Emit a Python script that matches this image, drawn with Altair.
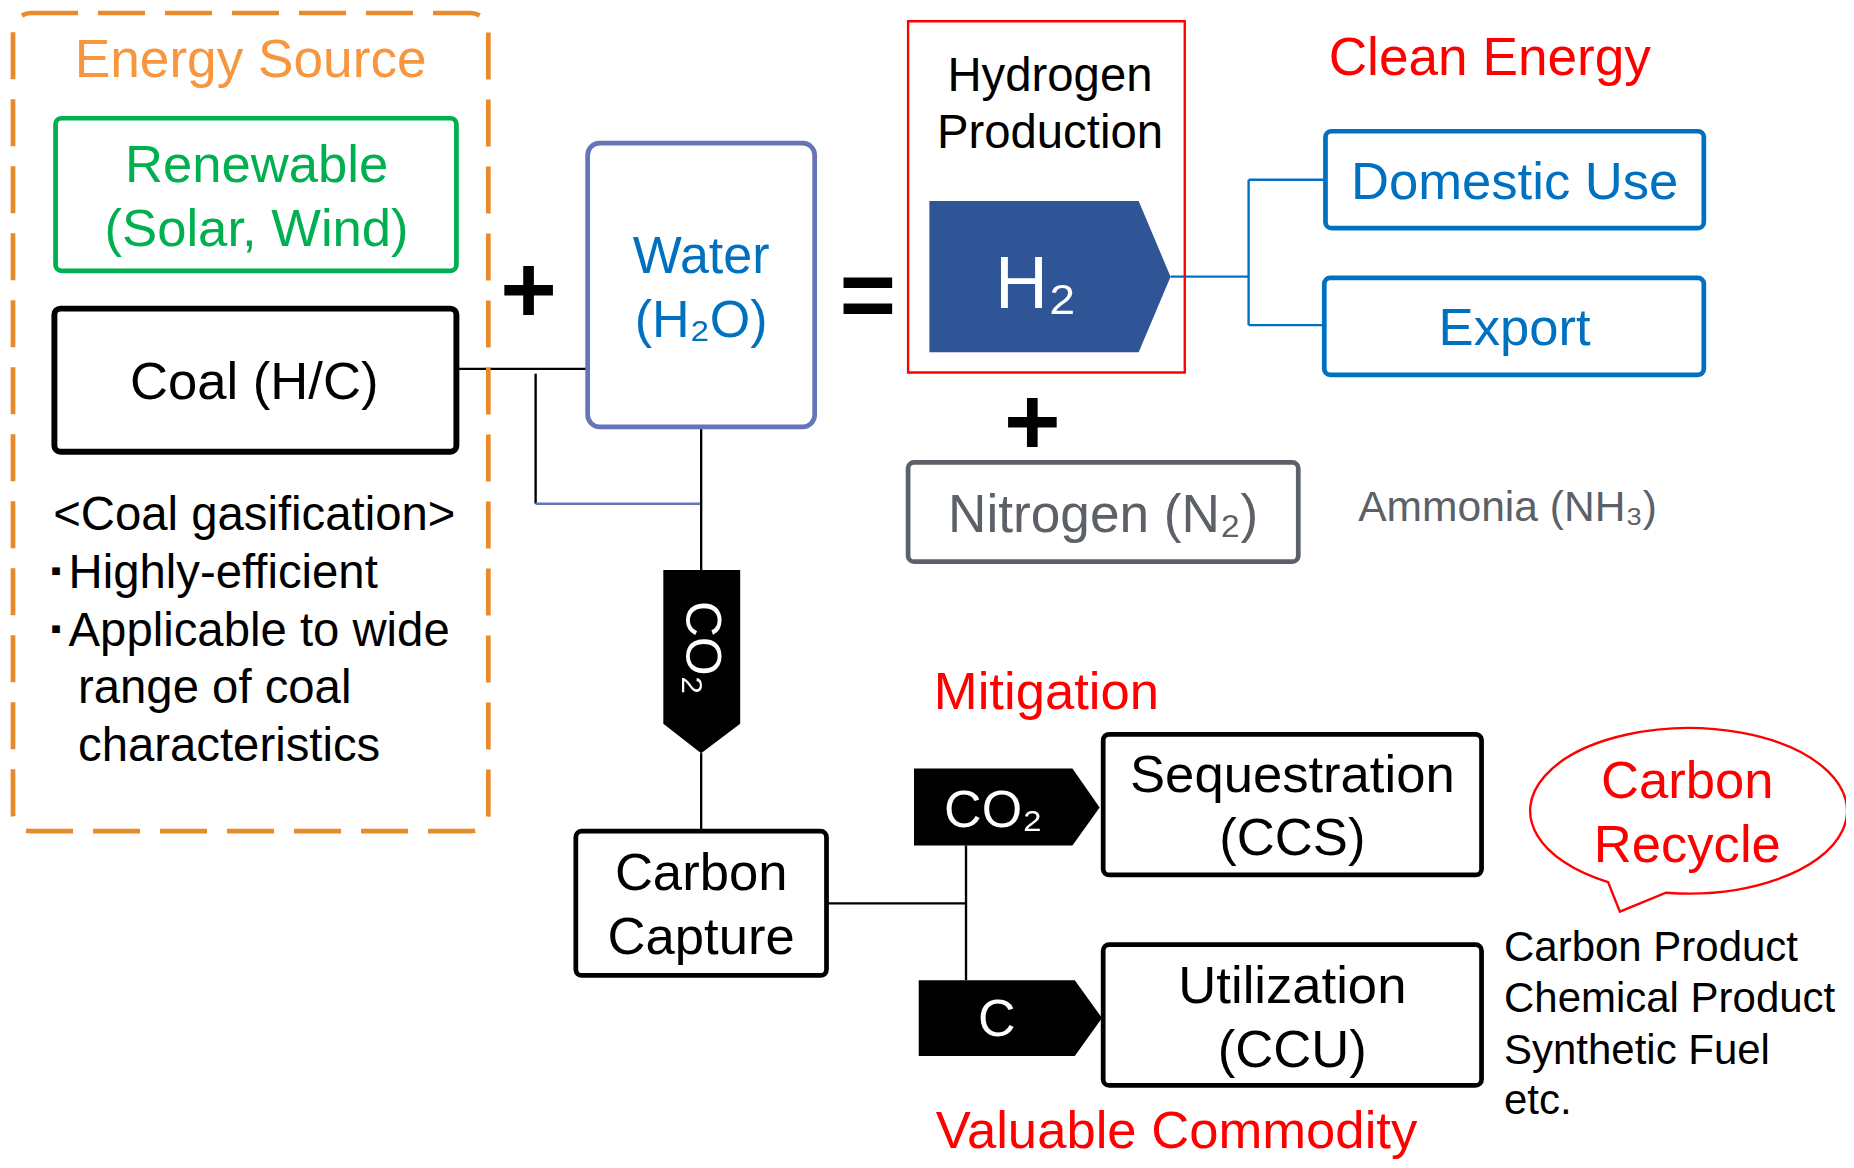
import altair as alt
import pandas as pd

# reference units (1568-wide picture) -> screen pixels
K = 1854 / 1568
PX_W, PX_H = 1838, 1152
X_DOMAIN = [8 / K, (8 + PX_W) / K]
Y_DOMAIN = [8 / K, (8 + PX_H) / K]
FONT = "Liberation Sans"

# ---------------- boxes ----------------
BOX_GROUP = ["dash", "plain", "plain", "water", "hydro", "plain", "plain", "plain", "plain", "plain", "plain"]
BOX_X1 = [11, 47, 46, 497, 768, 1121, 1120, 768, 487, 933, 933]
BOX_Y1 = [11, 100, 261, 121, 18, 111, 235, 391, 703, 621, 799]
BOX_X2 = [413, 386, 386, 689, 1002, 1441, 1441, 1098, 699, 1253, 1253]
BOX_Y2 = [703, 229, 382, 361, 315, 193, 317, 475, 825, 740, 918]
BOX_COL = ["#E98A2C", "#00B050", "#000000", "#6675B7", "#FF0000", "#0070C0", "#0070C0",
           "#5B6167", "#000000", "#000000", "#000000"]
BOX_SW = [4, 4, 5, 4, 2, 4, 4, 4, 4, 4, 4]

# ---------------- connector lines ----------------
LN_X1 = [386, 453, 453, 593, 593, 699, 817, 990, 1056, 1056, 1056]
LN_Y1 = [312, 316, 426, 361, 637, 764, 715, 234, 152, 152, 275]
LN_X2 = [497, 453, 593, 593, 593, 817, 817, 1056, 1056, 1121, 1120]
LN_Y2 = [312, 426, 426, 482, 703, 764, 829, 234, 275, 152, 275]
LN_COL = ["#000000", "#000000", "#6675B7", "#000000", "#000000", "#000000", "#000000",
          "#0070C0", "#0070C0", "#0070C0", "#0070C0"]

# ---------------- arrow-shaped tags (pentagons) ----------------
TAG_NAME = ["H2", "CO2 down", "CO2 right", "C right"]
TAG_X = [[786, 963, 990, 963, 786], [561, 626, 626, 593, 561],
         [773, 907, 930, 907, 773], [777, 909, 932, 909, 777]]
TAG_Y = [[170, 170, 234, 298, 298], [482, 482, 612, 637, 612],
         [650, 650, 683, 715, 715], [829, 829, 861, 893, 893]]
TAG_COL = ["#2F5597", "#000000", "#000000", "#000000"]

# ---------------- speech bubble ----------------
BUB_CX, BUB_CY, BUB_RX, BUB_RY = 1425, 686, 134, 70
BUB_TAIL_X = [1409, 1360, 1370]   # right attach, left attach, tip
BUB_TAIL_Y = [755, 746, 771]

# ---------------- texts ----------------
TXT = ["Energy Source", "Renewable", "(Solar, Wind)", "Coal (H/C)",
       "Water", "(H₂O)", "Hydrogen", "Production", "H₂", "Clean Energy",
       "Domestic Use", "Export", "Nitrogen (N₂)", "Ammonia (NH₃)", "Mitigation",
       "CO₂", "C", "Sequestration", "(CCS)", "Utilization", "(CCU)",
       "Carbon", "Capture", "Carbon", "Recycle", "Valuable Commodity"]
TXT_X = [212, 217, 217, 215, 593, 593, 888, 888, 876, 1260,
         1281, 1281, 933, 1275, 885, 840, 843, 1093, 1093, 1093, 1093,
         593, 593, 1427, 1427, 995]
TXT_Y = [51.5, 140.5, 194.5, 323.5, 217.5, 271.5, 65.5, 113.5, 241.5, 49.5,
         154.5, 278.5, 436.5, 429.5, 586.5, 685.5, 862.5, 656.5, 709.5, 834.5, 888.5,
         739.5, 793.5, 661.5, 715.5, 957]
TXT_COL = ["#F7963F", "#00B050", "#00B050", "#000000", "#0070C0", "#0070C0", "#000000", "#000000",
           "#FFFFFF", "#FF0000", "#0070C0", "#0070C0", "#5B6167", "#5B6167", "#FF0000",
           "#FFFFFF", "#FFFFFF", "#000000", "#000000", "#000000", "#000000",
           "#000000", "#000000", "#FF0000", "#FF0000", "#FF0000"]
TXT_FS = [45, 44.5, 44.5, 44.5, 44, 44, 40, 40, 62, 45,
          44.5, 44.5, 45, 36, 44.5, 44, 44, 44.5, 44.5, 44.5, 44.5,
          44.5, 44.5, 44.5, 44.5, 44.5]

LEFT_TXT = ["<Coal gasification>", "Highly-efficient", "Applicable to wide", "range of coal",
            "characteristics", "Carbon Product", "Chemical Product", "Synthetic Fuel", "etc."]
LEFT_X = [45, 58, 58, 66, 66, 1272, 1272, 1272, 1272]
LEFT_Y = [436.5, 485.5, 534.5, 582.5, 631.5, 801.5, 844.5, 888.5, 931.5]
LEFT_FS = [40, 40, 40, 40, 40, 35.5, 35.5, 35.5, 35.5]

BULLET_TXT = ["▪", "▪"]
BULLET_X = [47.5, 47.5]
BULLET_Y = [484, 533]
BULLET_FS = [26, 26]

VERT_TXT = ["CO₂"]
VERT_X = [593]
VERT_Y = [548]
VERT_FS = [42]

SYM_TXT = ["+", "=", "+"]
SYM_X = [447, 734, 873]
SYM_Y = [249, 253, 360]
SYM_FS = [82, 82, 82]

# ================= build tables =================
xs = alt.Scale(domain=X_DOMAIN, nice=False, zero=False)
ys = alt.Scale(domain=Y_DOMAIN, nice=False, zero=False, reverse=True)


def X(f):
    return alt.X(f, type="quantitative", scale=xs, axis=None)


def Y(f):
    return alt.Y(f, type="quantitative", scale=ys, axis=None)


boxes = pd.DataFrame({"grp": BOX_GROUP, "x1": BOX_X1, "y1": BOX_Y1, "x2": BOX_X2, "y2": BOX_Y2,
                      "col": BOX_COL, "sw": [w * K for w in BOX_SW]})


def box_layer(grp, radius, fill_op, dash=None):
    kw = dict(cornerRadius=radius, fill="white", fillOpacity=fill_op)
    if dash is not None:
        kw["strokeDash"] = dash
    return (alt.Chart(boxes).transform_filter(alt.datum.grp == grp)
            .mark_rect(**kw)
            .encode(x=X("x1"), x2="x2", y=Y("y1"), y2="y2",
                    stroke=alt.Stroke("col:N", scale=None),
                    strokeWidth=alt.StrokeWidth("sw:Q", scale=None)))


lines = pd.DataFrame({"x1": LN_X1, "y1": LN_Y1, "x2": LN_X2, "y2": LN_Y2, "col": LN_COL})
line_layer = (alt.Chart(lines).mark_rule(strokeWidth=2 * K, strokeCap="butt")
              .encode(x=X("x1"), y=Y("y1"), x2="x2", y2="y2",
                      stroke=alt.Stroke("col:N", scale=None)))


def rel_path(xv, yv, cx, cy):
    pts = [f"{x - cx:.2f} {y - cy:.2f}" for x, y in zip(xv, yv)]
    return "M " + " L ".join(pts) + " Z"


tag_cx = [min(v) for v in TAG_X]
tag_cy = [(min(v) + max(v)) / 2 for v in TAG_Y]
tags = pd.DataFrame({"name": TAG_NAME, "cx": tag_cx, "cy": tag_cy, "col": TAG_COL,
                     "path": [rel_path(a, b, c, d) for a, b, c, d in zip(TAG_X, TAG_Y, tag_cx, tag_cy)]})
SYM_SIZE = 4 * K * K  # 1 path unit == 1 reference unit
tag_layer = (alt.Chart(tags).mark_point(filled=True, opacity=1, strokeWidth=0)
             .encode(x=X("cx"), y=Y("cy"), shape=alt.Shape("path:N", scale=None),
                     fill=alt.Fill("col:N", scale=None), size=alt.value(SYM_SIZE)))

rx, ry = BUB_TAIL_X[0] - BUB_CX, BUB_TAIL_Y[0] - BUB_CY
lx, ly = BUB_TAIL_X[1] - BUB_CX, BUB_TAIL_Y[1] - BUB_CY
tx, ty = BUB_TAIL_X[2] - BUB_CX, BUB_TAIL_Y[2] - BUB_CY
bub_path = f"M {rx} {ry} A {BUB_RX} {BUB_RY} 0 1 0 {lx} {ly} L {tx} {ty} Z"
bubble = pd.DataFrame({"cx": [BUB_CX], "cy": [BUB_CY], "path": [bub_path]})
bubble_layer = (alt.Chart(bubble).mark_point(filled=False, opacity=1, stroke="#FF0000", strokeWidth=2 * K)
                .encode(x=X("cx"), y=Y("cy"), shape=alt.Shape("path:N", scale=None),
                        size=alt.value(SYM_SIZE)))

texts = pd.DataFrame({"t": TXT, "x": TXT_X, "y": TXT_Y, "col": TXT_COL,
                      "fs": [f * K for f in TXT_FS]})
text_layer = (alt.Chart(texts).mark_text(align="center", baseline="middle", font=FONT)
              .encode(x=X("x"), y=Y("y"), text="t:N", color=alt.Color("col:N", scale=None),
                      size=alt.Size("fs:Q", scale=None)))

left = pd.DataFrame({"t": LEFT_TXT, "x": LEFT_X, "y": LEFT_Y, "fs": [f * K for f in LEFT_FS]})
left_layer = (alt.Chart(left).mark_text(align="left", baseline="middle", font=FONT, color="#000000")
              .encode(x=X("x"), y=Y("y"), text="t:N", size=alt.Size("fs:Q", scale=None)))

bul = pd.DataFrame({"t": BULLET_TXT, "x": BULLET_X, "y": BULLET_Y, "fs": [f * K for f in BULLET_FS]})
bullet_layer = (alt.Chart(bul).mark_text(align="center", baseline="middle", font=FONT, color="#000000")
                .encode(x=X("x"), y=Y("y"), text="t:N", size=alt.Size("fs:Q", scale=None)))

vert = pd.DataFrame({"t": VERT_TXT, "x": VERT_X, "y": VERT_Y, "fs": [f * K for f in VERT_FS]})
vert_layer = (alt.Chart(vert).mark_text(align="center", baseline="middle", font=FONT, color="#FFFFFF", angle=90)
              .encode(x=X("x"), y=Y("y"), text="t:N", size=alt.Size("fs:Q", scale=None)))

sym = pd.DataFrame({"t": SYM_TXT, "x": SYM_X, "y": SYM_Y, "fs": [f * K for f in SYM_FS]})
sym_layer = (alt.Chart(sym).mark_text(align="center", baseline="middle", font=FONT, fontWeight="bold",
                                      color="#000000")
             .encode(x=X("x"), y=Y("y"), text="t:N", size=alt.Size("fs:Q", scale=None)))

chart = alt.layer(
    line_layer,
    box_layer("dash", 18, 0, dash=[47, 20]),
    box_layer("plain", 6, 1),
    box_layer("water", 12, 1),
    box_layer("hydro", 0, 0),
    tag_layer,
    bubble_layer,
    text_layer,
    left_layer,
    bullet_layer,
    vert_layer,
    sym_layer,
).properties(
    width=PX_W, height=PX_H, padding=0,
    autosize=alt.AutoSizeParams(type="none"), background="white"
).configure_view(stroke=None)

chart.save("out.html", embed_options={"renderer": "svg", "actions": False})
